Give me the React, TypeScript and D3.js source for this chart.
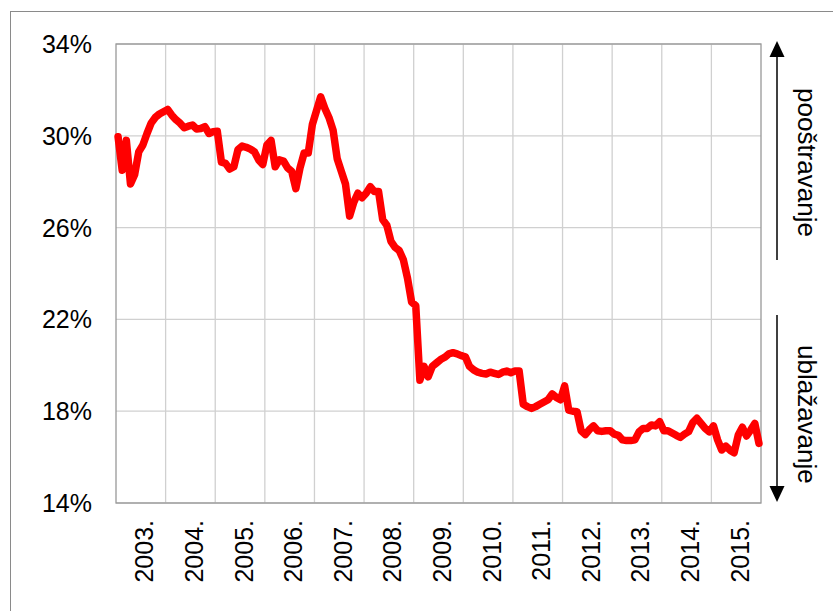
import React, {useEffect, useRef} from 'react';
import * as d3 from "d3";

// monthly values, Jan 2003 - Dec 2015 (%)
const years = ['2003.', '2004.', '2005.', '2006.', '2007.', '2008.', '2009.', '2010.', '2011.', '2012.', '2013.', '2014.', '2015.']
const yTicks = [14, 18, 22, 26, 30, 34]

const v2003 = [29.96, 28.5, 29.8, 27.9, 28.3, 29.3, 29.6, 30.1, 30.55, 30.8, 30.95, 31.05]
const v2004 = [31.15, 30.9, 30.7, 30.55, 30.35, 30.42, 30.47, 30.3, 30.32, 30.4, 30.1, 30.18]
const v2005 = [30.2, 28.85, 28.8, 28.55, 28.65, 29.4, 29.55, 29.5, 29.42, 29.3, 28.95, 28.75]
const v2006 = [29.6, 29.8, 28.65, 28.95, 28.9, 28.6, 28.45, 27.7, 28.6, 29.25, 29.25, 30.5]
const v2007 = [31.1, 31.7, 31.2, 30.8, 30.25, 29.0, 28.45, 27.9, 26.5, 27.1, 27.5, 27.3]
const v2008 = [27.5, 27.78, 27.57, 27.57, 26.35, 26.1, 25.4, 25.14, 25.0, 24.6, 23.8, 22.75]
const v2009 = [22.6, 19.35, 19.95, 19.5, 19.95, 20.1, 20.25, 20.35, 20.5, 20.55, 20.5, 20.42]
const v2010 = [20.37, 19.95, 19.8, 19.7, 19.65, 19.62, 19.7, 19.65, 19.6, 19.7, 19.75, 19.68]
const v2011 = [19.75, 19.75, 18.3, 18.2, 18.12, 18.2, 18.3, 18.4, 18.5, 18.75, 18.6, 18.5]
const v2012 = [19.1, 18.05, 18.0, 17.98, 17.15, 16.98, 17.2, 17.36, 17.15, 17.12, 17.15, 17.15]
const v2013 = [17.0, 16.95, 16.75, 16.72, 16.72, 16.75, 17.1, 17.25, 17.25, 17.4, 17.36, 17.54]
const v2014 = [17.15, 17.15, 17.05, 16.95, 16.86, 17.0, 17.11, 17.5, 17.69, 17.47, 17.25, 17.1]
const v2015 = [17.36, 16.75, 16.31, 16.48, 16.3, 16.19, 16.96, 17.3, 16.92, 17.18, 17.47, 16.6]

const values = [
    ...v2003, ...v2004, ...v2005, ...v2006, ...v2007, ...v2008, ...v2009,
    ...v2010, ...v2011, ...v2012, ...v2013, ...v2014, ...v2015
]

const upLabel = 'pooštravanje'
const downLabel = 'ublažavanje'

export default function App(){
    const width = 833
    const height = 611
    const plot = { left: 116, right: 761, top: 44, bottom: 503 }
    const font = '"Liberation Sans", Arial, sans-serif'

    const d3svg = useRef<SVGSVGElement>(null);

    useEffect(() => {
        if (!d3svg.current) return
        const svg = d3.select(d3svg.current)
        svg.selectAll('*').remove()

        const xScale = d3.scaleLinear()
            .domain([0, years.length * 12])
            .range([plot.left, plot.right])
        const yScale = d3.scaleLinear()
            .domain([14, 34])
            .range([plot.bottom, plot.top])

        // outer frame
        svg.append('rect')
            .attr('x', 10.5).attr('y', 11.5)
            .attr('width', width).attr('height', height)
            .attr('fill', 'none')
            .attr('stroke', '#8a8a8a')

        // grid
        svg.append('g')
            .selectAll('line')
            .data(yTicks)
            .enter()
            .append('line')
            .attr('x1', plot.left).attr('x2', plot.right)
            .attr('y1', d => yScale(d)).attr('y2', d => yScale(d))
            .attr('stroke', '#d0d0d0')
            .attr('stroke-width', 1.3)
        svg.append('g')
            .selectAll('line')
            .data(d3.range(1, years.length))
            .enter()
            .append('line')
            .attr('x1', d => xScale(d * 12)).attr('x2', d => xScale(d * 12))
            .attr('y1', plot.top).attr('y2', plot.bottom)
            .attr('stroke', '#d0d0d0')
            .attr('stroke-width', 1.3)

        // plot border
        svg.append('rect')
            .attr('x', plot.left).attr('y', plot.top)
            .attr('width', plot.right - plot.left)
            .attr('height', plot.bottom - plot.top)
            .attr('fill', 'none')
            .attr('stroke', '#999')
            .attr('stroke-width', 1.3)

        // y labels
        svg.append('g')
            .selectAll('text')
            .data(yTicks)
            .enter()
            .append('text')
            .attr('x', 92)
            .attr('y', d => yScale(d) + 9)
            .attr('text-anchor', 'end')
            .attr('font-family', font)
            .attr('font-size', 25)
            .text(d => `${d}%`)

        // x labels
        svg.append('g')
            .selectAll('text')
            .data(years)
            .enter()
            .append('text')
            .attr('transform', (d, i) => `translate(${xScale(i * 12 + 6) + 12.5},520) rotate(-90)`)
            .attr('text-anchor', 'end')
            .attr('font-family', font)
            .attr('font-size', 25)
            .text(d => d)

        // line
        svg.append('path')
            .datum(values)
            .attr('fill', 'none')
            .attr('stroke', '#ff0000')
            .attr('stroke-width', 7.5)
            .attr('stroke-linejoin', 'round')
            .attr('stroke-linecap', 'round')
            .attr('d', d3.line<number>()
                .x((d, i) => xScale(i + 0.5))
                .y(d => yScale(d)))

        // arrows on the right
        const ax = 777
        const arrows = svg.append('g')
        arrows.append('line')
            .attr('x1', ax).attr('x2', ax).attr('y1', 56).attr('y2', 260)
            .attr('stroke', '#000').attr('stroke-width', 1.5)
        arrows.append('path')
            .attr('d', `M${ax},41 L${ax - 7.5},57 L${ax + 7.5},57 Z`)
            .attr('fill', '#000')
        arrows.append('line')
            .attr('x1', ax).attr('x2', ax).attr('y1', 315).attr('y2', 488)
            .attr('stroke', '#000').attr('stroke-width', 1.5)
        arrows.append('path')
            .attr('d', `M${ax},502 L${ax - 7.5},486 L${ax + 7.5},486 Z`)
            .attr('fill', '#000')

        svg.append('text')
            .attr('transform', 'translate(798,88) rotate(90)')
            .attr('font-family', font)
            .attr('font-size', 26)
            .text(upLabel)
        svg.append('text')
            .attr('transform', 'translate(798,345) rotate(90)')
            .attr('font-family', font)
            .attr('font-size', 26)
            .text(downLabel)
    // eslint-disable-next-line react-hooks/exhaustive-deps
    }, [])

    return (
        <svg
            ref={d3svg}
            width={width}
            height={height}
            style={{position: 'absolute', left: 0, top: 0, background: '#fff'}}
        ></svg>
    )
}
